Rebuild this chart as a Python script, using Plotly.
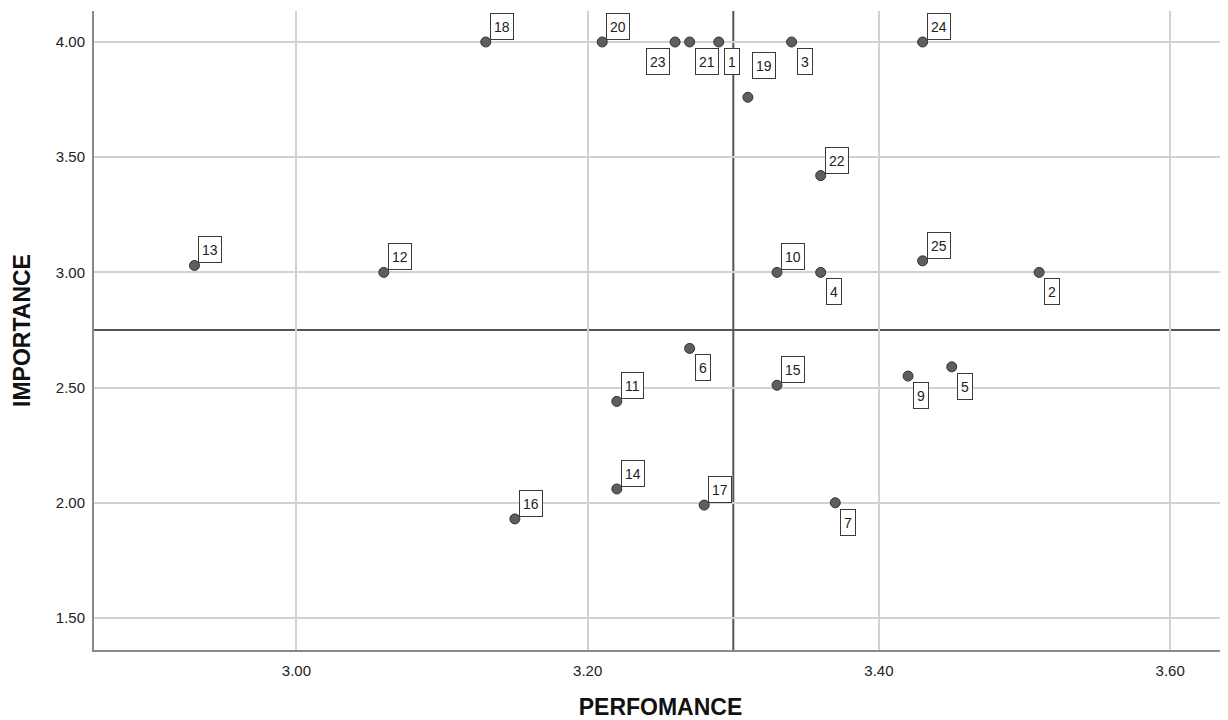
import plotly.graph_objects as go

# ---- data ----
labels = ["1", "2", "3", "4", "5", "6", "7", "9", "10", "11", "12", "13", "14",
          "15", "16", "17", "18", "19", "20", "21", "22", "23", "24", "25"]
performance = [3.29, 3.51, 3.34, 3.36, 3.45, 3.27, 3.37, 3.42, 3.33, 3.22, 3.06, 2.93, 3.22,
               3.33, 3.15, 3.28, 3.13, 3.31, 3.21, 3.27, 3.36, 3.26, 3.43, 3.43]
importance = [4.00, 3.00, 4.00, 3.00, 2.59, 2.67, 2.00, 2.55, 3.00, 2.44, 3.00, 3.03, 2.06,
              2.51, 1.93, 1.99, 4.00, 3.76, 4.00, 4.00, 3.42, 4.00, 4.00, 3.05]
# label placement relative to its point: ur = upper-right, lr = lower-right, ll = lower-left, hi = high upper-right
placement = ["lr", "lr", "lr", "lr", "lr", "lr", "lr", "lr", "ur", "ur", "ur", "ur", "ur",
             "ur", "ur", "ur", "ur", "hi", "ur", "lr", "ur", "ll", "ur", "ur"]

perf_ref = 3.30
imp_ref = 2.75
x_ticks = [3.00, 3.20, 3.40, 3.60]
y_ticks = [1.50, 2.00, 2.50, 3.00, 3.50, 4.00]
x_title = "PERFOMANCE"
y_title = "IMPORTANCE"

fig = go.Figure()
fig.add_trace(go.Scatter(
    x=performance, y=importance, mode="markers",
    marker=dict(size=10, color="#5e5e5e", line=dict(color="#333333", width=1)),
    hoverinfo="skip", showlegend=False,
))

style = {
    "ur": dict(xanchor="left", yanchor="bottom", xshift=4, yshift=2),
    "lr": dict(xanchor="left", yanchor="top", xshift=5, yshift=-6),
    "ll": dict(xanchor="right", yanchor="top", xshift=-5, yshift=-6),
    "hi": dict(xanchor="left", yanchor="bottom", xshift=4, yshift=18),
}
for lab, xv, yv, pl in zip(labels, performance, importance, placement):
    fig.add_annotation(
        x=xv, y=yv, text=lab, showarrow=False,
        font=dict(family="Arial, Liberation Sans, sans-serif", size=14, color="#222222"),
        bgcolor="white", bordercolor="#3a3a3a", borderwidth=1, borderpad=3,
        height=19, valign="middle",
        **style[pl],
    )

# reference lines
fig.add_shape(type="line", xref="x", yref="paper", x0=perf_ref, x1=perf_ref, y0=0, y1=1,
              line=dict(color="#555555", width=2), layer="below")
fig.add_shape(type="line", xref="paper", yref="y", x0=0, x1=1, y0=imp_ref, y1=imp_ref,
              line=dict(color="#555555", width=2), layer="below")

axis_font = dict(family="Arial, Liberation Sans, sans-serif", size=15, color="#222222")
title_font = dict(family="Arial, Liberation Sans, sans-serif", size=23, color="#111111")

fig.update_layout(
    width=1220, height=712,
    margin=dict(l=86, r=1, t=3, b=70),
    paper_bgcolor="white", plot_bgcolor="white",
    xaxis=dict(
        range=[2.861, 3.639], tickvals=x_ticks, tickformat=".2f",
        showgrid=True, gridcolor="#d2d2d2", gridwidth=1.5,
        showline=True, linecolor="#8a8a8a", linewidth=2,
        zeroline=False, ticks="", tickfont=axis_font, ticklabelstandoff=6,
        title=dict(text="<b>" + x_title + "</b>", font=title_font, standoff=23),
    ),
    yaxis=dict(
        range=[1.361, 4.1345], tickvals=y_ticks, tickformat=".2f",
        showgrid=True, gridcolor="#d2d2d2", gridwidth=1.5,
        showline=True, linecolor="#8a8a8a", linewidth=2,
        zeroline=False, ticks="", tickfont=axis_font, ticklabelstandoff=4,
        title=dict(text="<b>" + y_title + "</b>", font=title_font, standoff=19),
    ),
)

fig.write_html("out.html")
